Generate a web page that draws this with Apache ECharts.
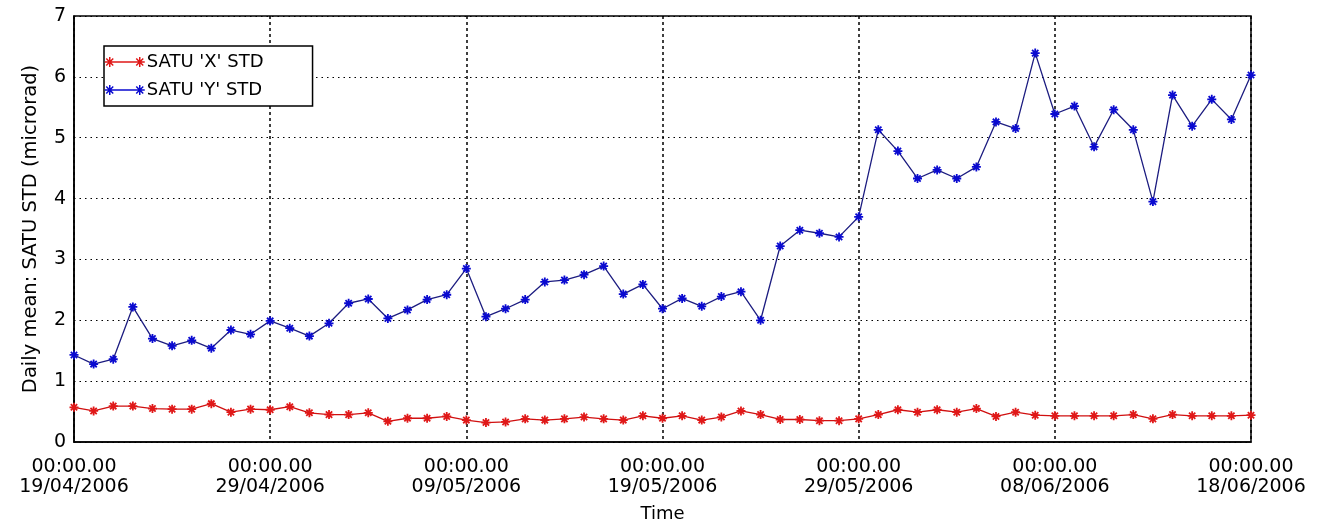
<!DOCTYPE html>
<html>
<head>
<meta charset="utf-8">
<script src="https://cdn.jsdelivr.net/npm/echarts@6/dist/echarts.min.js"></script>
<style>
html,body{margin:0;padding:0;background:#fff;}
#chart{width:1321px;height:522px;}
</style>
</head>
<body>
<div id="chart"></div>
<script>
// Daily categories 19/04/2006 .. 18/06/2006
var dayCount = 61;
var categories = [];
(function(){
  var d0 = Date.UTC(2006, 3, 19);
  for (var i = 0; i < dayCount; i++) {
    var d = new Date(d0 + i * 86400000);
    var dd = ('0' + d.getUTCDate()).slice(-2);
    var mm = ('0' + (d.getUTCMonth() + 1)).slice(-2);
    categories.push(dd + '/' + mm + '/' + d.getUTCFullYear());
  }
})();
var timePrefix = '00:00.00';

var seriesXName = "SATU 'X' STD";
var seriesYName = "SATU 'Y' STD";

var satuX = [0.57,0.51,0.59,0.59,0.55,0.54,0.54,0.63,0.49,0.54,
             0.53,0.58,0.48,0.45,0.45,0.48,0.34,0.39,0.39,0.42,
             0.36,0.32,0.33,0.38,0.36,0.38,0.41,0.38,0.36,0.43,
             0.39,0.43,0.36,0.41,0.51,0.45,0.37,0.37,0.35,0.35,
             0.38,0.45,0.53,0.49,0.53,0.49,0.55,0.42,0.49,0.44,
             0.43,0.43,0.43,0.43,0.45,0.38,0.45,0.43,0.43,0.43,0.44];

var satuY = [1.43,1.28,1.36,2.22,1.70,1.58,1.67,1.54,1.84,1.77,
             1.99,1.87,1.74,1.95,2.28,2.35,2.03,2.17,2.34,2.42,
             2.85,2.06,2.19,2.34,2.63,2.66,2.75,2.89,2.43,2.59,
             2.19,2.36,2.23,2.39,2.47,2.00,3.22,3.48,3.43,3.37,
             3.70,5.13,4.78,4.33,4.47,4.33,4.52,5.26,5.15,6.39,
             5.39,5.52,4.85,5.46,5.13,3.95,5.70,5.19,5.63,5.30,6.03];

var yTicks = [0,1,2,3,4,5,6,7];

var colorX = '#e01818';
var colorXLine = '#d01010';
var colorY = '#0a0ad0';
var colorYLine = '#1c1c80';

var star = 'path://M0,5 L10,5 M5,0 L5,10 M1.5,1.5 L8.5,8.5 M8.5,1.5 L1.5,8.5';
var legendIcon = 'path://M0,5 L10,5 M5,0 L5,10 M1.5,1.5 L8.5,8.5 M8.5,1.5 L1.5,8.5 M5,5 L35,5 M30,5 L40,5 M35,0 L35,10 M31.5,1.5 L38.5,8.5 M38.5,1.5 L31.5,8.5';

var font = 'DejaVu Sans';

var chart = echarts.init(document.getElementById('chart'), null, {renderer: 'canvas'});
chart.setOption({
  animation: false,
  backgroundColor: '#fff',
  grid: {left: 74, right: 70, top: 16, bottom: 80, show: true, borderColor: '#000', borderWidth: 1.5,
         containLabel: false, outerBoundsMode: 'none'},
  legend: {
    orient: 'vertical',
    left: 104, top: 46,
    padding: [7, 49, 7, 0],
    itemGap: 10,
    itemWidth: 40, itemHeight: 11,
    borderColor: '#000', borderWidth: 1.5,
    backgroundColor: '#fff',
    icon: legendIcon,
    textStyle: {fontFamily: font, fontSize: 18, color: '#000', padding: [0,0,0,-3]},
    data: [
      {name: seriesXName, itemStyle: {color: colorX, borderColor: colorX, borderWidth: 1.5}},
      {name: seriesYName, itemStyle: {color: colorY, borderColor: colorY, borderWidth: 1.5}}
    ]
  },
  xAxis: {
    type: 'category',
    data: categories,
    boundaryGap: false,
    name: 'Time',
    nameLocation: 'middle',
    nameGap: 63,
    nameTextStyle: {fontFamily: font, fontSize: 18, color: '#000'},
    axisLine: {show: true, lineStyle: {color: '#000', width: 1.5}},
    axisTick: {show: false},
    axisLabel: {
      interval: 9,
      margin: 15,
      fontFamily: font, fontSize: 19, color: '#000', lineHeight: 20,
      formatter: function (v) { return timePrefix + '\n' + v; }
    },
    splitLine: {show: true, interval: 9, lineStyle: {color: '#000', type: [3, 3], width: 1.5}}
  },
  yAxis: {
    type: 'value',
    min: yTicks[0], max: yTicks[yTicks.length - 1], interval: 1,
    name: 'Daily mean: SATU STD (microrad)',
    nameLocation: 'middle',
    nameGap: 33,
    nameRotate: 90,
    nameTextStyle: {fontFamily: font, fontSize: 19.5, color: '#000'},
    axisLine: {show: true, lineStyle: {color: '#000', width: 1.5}},
    axisTick: {show: false},
    axisLabel: {margin: 8, fontFamily: font, fontSize: 19, color: '#000'},
    splitLine: {show: true, lineStyle: {color: '#000', type: [1.5, 4], width: 1.2}}
  },
  series: [
    {
      name: seriesXName, type: 'line', data: satuX,
      symbol: star, symbolSize: 9,
      lineStyle: {color: colorXLine, width: 1.3},
      itemStyle: {color: colorX, borderColor: colorX, borderWidth: 1.8},
      z: 3
    },
    {
      name: seriesYName, type: 'line', data: satuY,
      symbol: star, symbolSize: 9,
      lineStyle: {color: colorYLine, width: 1.3},
      itemStyle: {color: colorY, borderColor: colorY, borderWidth: 1.8},
      z: 3
    }
  ]
});
</script>
</body>
</html>
